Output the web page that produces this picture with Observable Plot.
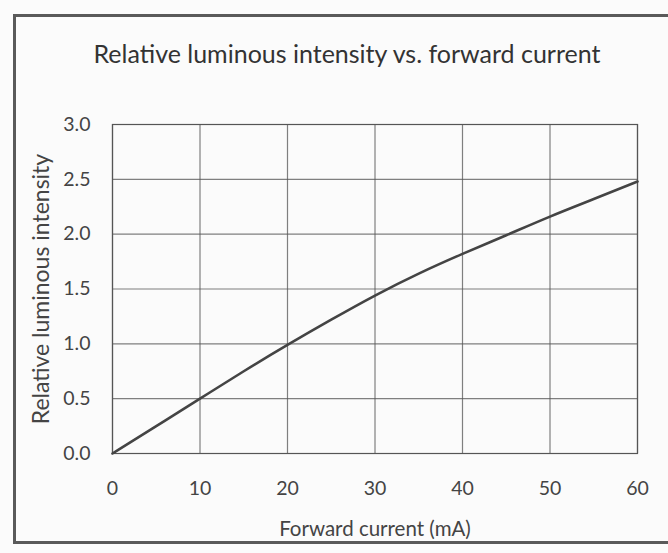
<!DOCTYPE html>
<html>
<head>
<meta charset="utf-8">
<script src="https://cdn.jsdelivr.net/npm/d3@7"></script>
<script src="https://cdn.jsdelivr.net/npm/@observablehq/plot@0.6"></script>
<style>
  html, body { margin: 0; padding: 0; background: #fbfbfb; }
  #wrap { position: relative; width: 668px; height: 553px; overflow: hidden; background: #fbfbfb; font-family: Lato, "Open Sans", sans-serif; }
  #border { position: absolute; left: 13px; top: 14px; width: 670px; height: 530px; border: 3px solid #5a5a5a; box-sizing: border-box; }
  #title { position: absolute; left: 0; top: 38px; width: 668px; text-align: center; padding-left: 26px; box-sizing: border-box; font-size: 25px; color: #333; }
  #chart { position: absolute; left: 0; top: 90px; }
</style>
</head>
<body>
<div id="wrap">
  <div id="border"></div>
  <div id="title">Relative luminous intensity vs. forward current</div>
  <div id="chart"></div>
</div>
<script>
const current = [0, 5, 10, 15, 20, 25, 30, 35, 40, 45, 50, 55, 60];
const intensity = [0, 0.25, 0.5, 0.75, 0.99, 1.22, 1.44, 1.64, 1.82, 1.99, 2.16, 2.32, 2.48];
const xTicks = [0, 10, 20, 30, 40, 50, 60];
const yTicks = [0, 0.5, 1.0, 1.5, 2.0, 2.5, 3.0];
const xLabel = "Forward current (mA)";
const yLabel = "Relative luminous intensity";

const data = current.map((c, i) => ({current: c, intensity: intensity[i]}));

const plot = Plot.plot({
  width: 668,
  height: 463,
  marginTop: 34,
  marginBottom: 100,
  marginLeft: 112,
  marginRight: 31,
  style: {fontFamily: "Lato, 'Open Sans', sans-serif", fontSize: "16px", color: "#444", background: "transparent"},
  x: {domain: [0, 60], ticks: xTicks, tickSize: 0, tickPadding: 28, label: xLabel, labelArrow: false, labelAnchor: "center", labelOffset: 82},
  y: {domain: [0, 3], ticks: yTicks, tickFormat: d3.format(".1f"), tickSize: 0, tickPadding: 22, label: yLabel, labelArrow: false, labelAnchor: "center", labelOffset: 80},
  marks: [
    Plot.gridX(xTicks, {stroke: "#555", strokeOpacity: 0.75, strokeWidth: 1.2}),
    Plot.gridY(yTicks, {stroke: "#555", strokeOpacity: 0.75, strokeWidth: 1.2}),
    Plot.frame({stroke: "#555", strokeWidth: 1.2}),
    Plot.line(data, {x: "current", y: "intensity", stroke: "#444", strokeWidth: 2.6, curve: "natural"})
  ]
});
plot.querySelectorAll("text").forEach(t => {
  const s = t.textContent.trim();
  if (s === xLabel) { t.style.fontSize = "20.5px"; }
  else if (s === yLabel) { t.style.fontSize = "23px"; }
  else { t.style.fontSize = "19.5px"; }
  t.style.fill = "#444";
});
document.getElementById("chart").appendChild(plot);
</script>
</body>
</html>
